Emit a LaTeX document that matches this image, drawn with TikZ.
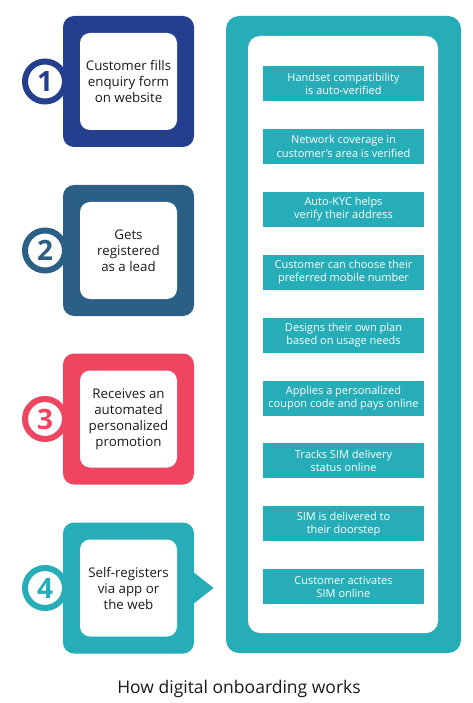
\documentclass[tikz,border=0pt]{standalone}
\usepackage{fontspec}
\setmainfont{Open Sans}
\definecolor{cblue}{HTML}{243F8E}
\definecolor{csteel}{HTML}{2C5F86}
\definecolor{cred}{HTML}{EE4560}
\definecolor{cteal}{HTML}{27ADB8}
\definecolor{ctext}{HTML}{1A1A1A}
\begin{document}
\begin{tikzpicture}[x=1pt,y=-1pt,
  outerbox/.style={minimum width=131pt,minimum height=131pt,rounded corners=11pt,inner sep=0pt},
  innerbox/.style={fill=white,minimum width=97pt,minimum height=97pt,rounded corners=10pt,inner sep=0pt,
     align=center,font=\fontsize{13.3}{16}\selectfont,text=ctext},
  ring/.style={circle,fill=white,minimum size=40pt,inner sep=0pt,line width=6pt,font=\fontsize{28}{28}\selectfont\bfseries},
  tealbox/.style={fill=cteal,minimum width=161pt,minimum height=35pt,inner sep=0pt,align=center,
     text=white,font=\fontsize{11}{13.2}\selectfont}]
\useasboundingbox (0,0) rectangle (472,703);
% container
\node[fill=cteal,minimum width=235pt,minimum height=637pt,rounded corners=13pt,inner sep=0pt] (cont) at (343.5,334.5) {};
\node[fill=white,minimum width=190pt,minimum height=597pt,rounded corners=12pt,inner sep=0pt] (contin) at (343,334.5) {};
% arrow of box 4
\fill[cteal] (192,571) -- (213.5,588) -- (192,605) -- cycle;
% step boxes
\foreach \i/\c/\y/\t in {1/cblue/81.5/{Customer fills\\enquiry form\\on website},
                         2/csteel/250.5/{Gets\\registered\\as a lead},
                         3/cred/419/{Receives an\\automated\\personalized\\promotion},
                         4/cteal/588/{Self-registers\\via app or\\the web}}{
  \node[outerbox,fill=\c] (ob\i) at (128.5,\y) {};
  \node[innerbox] (ib\i) at (128.5,\y) {\t};
  \node[ring,draw=\c,text=\c] (num\i) at (45,\y) {\i};
}
% teal items
\foreach \j/\t in {0/{Handset compatibility\\is auto-verified},
                   1/{Network coverage in\\customer's area is verified},
                   2/{Auto-KYC helps\\verify their address},
                   3/{Customer can choose their\\preferred mobile number},
                   4/{Designs their own plan\\based on usage needs},
                   5/{Applies a personalized\\coupon code and pays online},
                   6/{Tracks SIM delivery\\status online},
                   7/{SIM is delivered to\\their doorstep},
                   8/{Customer activates\\SIM online}}{
  \node[tealbox] (item\j) at (343.5,83.5+62.9*\j) {\t};
}
\node[font=\fontsize{17.5}{20}\selectfont,text=ctext] (title) at (239,689) {How digital onboarding works};
\end{tikzpicture}
\end{document}
